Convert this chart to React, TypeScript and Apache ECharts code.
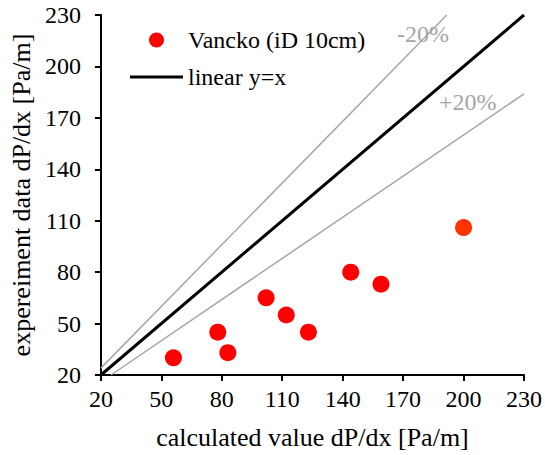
import React, { useEffect, useRef } from "react";
import * as echarts from "echarts";

const calculated = [56, 78, 83, 102, 112, 123, 144, 159, 200];
const experiment = [30, 45, 33, 65, 55, 45, 80, 73, 106];
const axisTicks = { min: 20, max: 230, interval: 30 };
const lineYeqX = [[20, 20], [230, 230]];
const lineMinus20 = [[20, 24], [191.67, 230]];
const linePlus20 = [[25, 20], [230, 184]];
const scatterName = "Vancko (iD 10cm)";
const lineName = "linear y=x";

const FONT = "Liberation Serif";

export default function App() {
  const ref = useRef<HTMLDivElement>(null);
  useEffect(() => {
    if (!ref.current) return;
    const chart = echarts.init(ref.current, null, { renderer: "svg" });
    const scatterData = calculated.map((x, i) => ({
      value: [x, experiment[i]],
      itemStyle: i === calculated.length - 1 ? { color: "#FF3300", opacity: 1 } : undefined,
    }));
    const labelStyle = { color: "#000", fontSize: 24, fontFamily: FONT };
    const axisCommon = {
      type: "value" as const,
      min: axisTicks.min,
      max: axisTicks.max,
      interval: axisTicks.interval,
      splitLine: { show: false },
      axisLine: { show: true, onZero: false, lineStyle: { color: "#000", width: 2 } },
      axisTick: { show: true, inside: false, length: 6, lineStyle: { color: "#000", width: 2 } },
      nameTextStyle: { color: "#000", fontSize: 26, fontFamily: FONT },
      nameLocation: "middle" as const,
    };
    chart.setOption({
      animation: false,
      grid: { left: 95, right: 18, top: 15, bottom: 77 },
      xAxis: {
        ...axisCommon,
        name: "calculated value dP/dx [Pa/m]",
        nameGap: 49,
        axisLabel: { ...labelStyle, margin: 12 },
      },
      yAxis: {
        ...axisCommon,
        name: "expereiment data dP/dx [Pa/m]",
        nameGap: 65,
        axisLabel: { ...labelStyle, margin: 20 },
      },
      legend: {
        data: [
          { name: scatterName, icon: "circle" },
          { name: lineName, icon: "path://M0,0 L53,0 L53,3 L0,3 Z" },
        ],
        orient: "vertical",
        left: 125,
        top: 23,
        padding: 5,
        itemWidth: 53,
        itemHeight: 15,
        itemGap: 13,
        textStyle: { color: "#000", fontSize: 24, fontFamily: FONT, lineHeight: 24 },
      },
      series: [
        {
          name: "-20%",
          type: "line",
          data: lineMinus20,
          symbol: "none",
          lineStyle: { color: "#A6A6A6", width: 1.5 },
          z: 1,
        },
        {
          name: "+20%",
          type: "line",
          data: linePlus20,
          symbol: "none",
          lineStyle: { color: "#A6A6A6", width: 1.5 },
          z: 1,
        },
        {
          name: lineName,
          type: "line",
          data: lineYeqX,
          symbol: "none",
          color: "#000",
          itemStyle: { color: "#000" },
          lineStyle: { color: "#000", width: 3 },
          z: 2,
        },
        {
          name: scatterName,
          type: "scatter",
          data: scatterData,
          symbolSize: 17,
          color: "#FF0000",
          itemStyle: { color: "#FF0000", opacity: 1 },
          z: 3,
        },
      ],
      graphic: [
        {
          type: "text",
          x: 397,
          y: 34,
          style: { text: "-20%", fill: "#A6A6A6", fontSize: 24, fontFamily: FONT, verticalAlign: "middle" },
        },
        {
          type: "text",
          x: 439,
          y: 102,
          style: { text: "+20%", fill: "#A6A6A6", fontSize: 24, fontFamily: FONT, verticalAlign: "middle" },
        },
      ],
    });
    return () => chart.dispose();
  }, []);
  return <div ref={ref} style={{ width: 545, height: 455, position: "absolute", left: 0, top: 0 }} />;
}
